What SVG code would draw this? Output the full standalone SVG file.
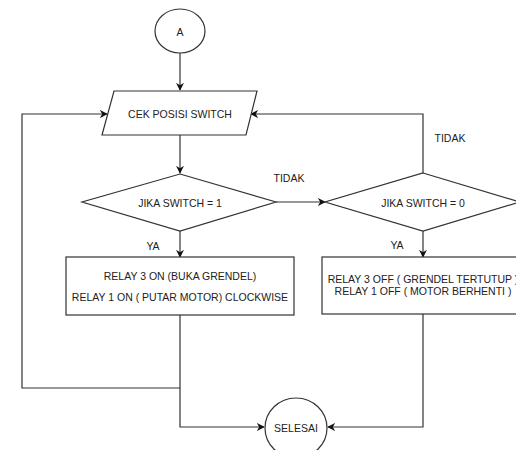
<svg xmlns="http://www.w3.org/2000/svg" width="516" height="450" viewBox="0 0 516 450">
<style>
.n{fill:#fff;stroke:#333;stroke-width:1.2}
.t{font-family:"Liberation Sans",Arial,sans-serif;font-size:10.5px;fill:#222;text-anchor:middle;dominant-baseline:central}
.c{fill:none;stroke:#333;stroke-width:1.2}
</style>
<defs>
<marker id="ar" viewBox="0 0 10 10" refX="9" refY="5" markerWidth="8" markerHeight="8" markerUnits="userSpaceOnUse" orient="auto">
<path d="M0,0 L10,5 L0,10 L3,5 Z" fill="#111"/>
</marker>
</defs>
<rect width="516" height="450" fill="#fff"/>
<g id="connectors">
<path class="c" d="M180,53 V90" marker-end="url(#ar)"/>
<path class="c" d="M180,135 V173" marker-end="url(#ar)"/>
<path class="c" d="M276,202 H325" marker-end="url(#ar)"/>
<path class="c" d="M423,173 V114 H251" marker-end="url(#ar)"/>
<path class="c" d="M180,231 V257" marker-end="url(#ar)"/>
<path class="c" d="M423,231 V257" marker-end="url(#ar)"/>
<path class="c" d="M180,315 V427 H264" marker-end="url(#ar)"/>
<path class="c" d="M180,388 H22 V114 H107" marker-end="url(#ar)"/>
<path class="c" d="M423,314 V427 H328" marker-end="url(#ar)"/>
<text class="t" x="289" y="178">TIDAK</text>
<text class="t" x="450" y="138">TIDAK</text>
<text class="t" x="153" y="246">YA</text>
<text class="t" x="397" y="245">YA</text>
</g>
<g id="nodeA">
<ellipse class="n" cx="180" cy="31" rx="25" ry="22"/>
<text class="t" x="180" y="32">A</text>
</g>
<g id="nodeCek">
<polygon class="n" points="114,91 257,91 246,135 102,135"/>
<text class="t" x="180" y="114">CEK POSISI SWITCH</text>
</g>
<g id="nodeDec1">
<polygon class="n" points="180,174 276,202 180,231 82,202"/>
<text class="t" x="180" y="203">JIKA SWITCH = 1</text>
</g>
<g id="nodeDec0">
<polygon class="n" points="423,173 520,202 423,231 325,202"/>
<text class="t" x="423" y="203">JIKA SWITCH = 0</text>
</g>
<g id="nodeRelayOn">
<rect class="n" x="66" y="257" width="228" height="58"/>
<text class="t" x="180" y="276">RELAY 3 ON (BUKA GRENDEL)</text>
<text class="t" x="180" y="297">RELAY 1 ON ( PUTAR MOTOR) CLOCKWISE</text>
</g>
<g id="nodeRelayOff">
<rect class="n" x="322" y="257" width="204" height="57"/>
<text class="t" x="423" y="279">RELAY 3 OFF ( GRENDEL TERTUTUP )</text>
<text class="t" x="423" y="291">RELAY 1 OFF ( MOTOR BERHENTI )</text>
</g>
<g id="nodeSelesai">
<ellipse class="n" cx="296" cy="428" rx="31" ry="30"/>
<text class="t" x="296" y="428">SELESAI</text>
</g>
</svg>
